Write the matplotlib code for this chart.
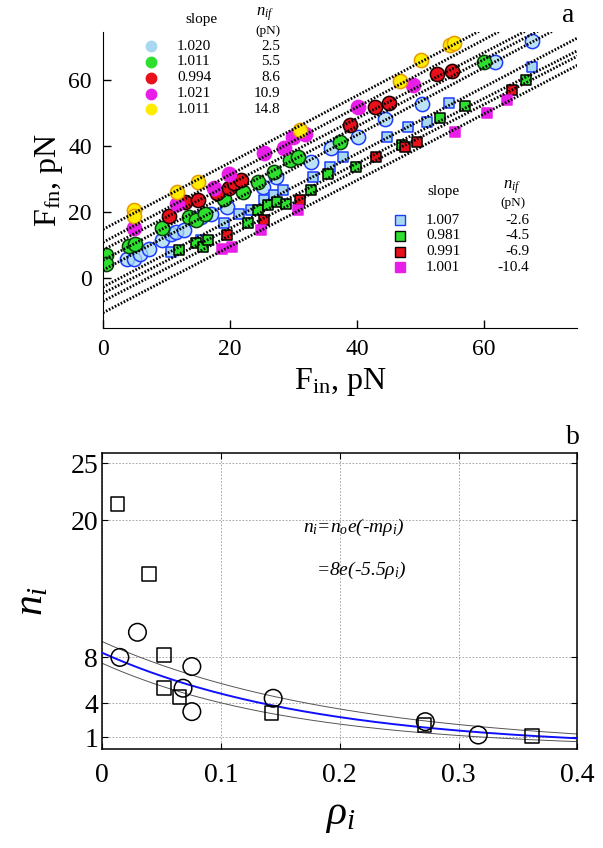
import numpy as np
import matplotlib
matplotlib.use("Agg")
import matplotlib.pyplot as plt

plt.rcParams['font.family'] = ['Liberation Serif', 'DejaVu Serif']
plt.rcParams['mathtext.fontset'] = 'custom'
plt.rcParams['mathtext.rm'] = 'Liberation Serif'
plt.rcParams['mathtext.it'] = 'Liberation Serif:italic'
plt.rcParams['mathtext.bf'] = 'Liberation Serif:bold'

# ---------------- Panel a data ----------------
circ_slopes = [1.020, 1.011, 0.994, 1.021, 1.011]
circ_nif = [2.5, 5.5, 8.6, 10.9, 14.8]
sq_slopes = [1.007, 0.981, 0.991, 1.001]
sq_nif = [-2.6, -4.5, -6.9, -10.4]

# circles: light blue (2.5)
c1_x = [3.8, 4.9, 5.9, 7.2, 9.3, 10.7, 11.5, 12.8, 15.4, 17.0, 19.6, 25.2, 27.3, 32.8, 36.0, 40.2, 44.4, 50.2, 61.8, 67.6]
c1_y = [6.0, 6.0, 7.5, 9.0, 11.5, 13.5, 14.0, 14.5, 18.6, 19.6, 21.6, 27.7, 30.7, 35.3, 39.3, 42.8, 48.1, 52.7, 65.3, 71.9]
# circles: green (5.5)
c2_x = [0.4, 0.4, 4.1, 5.1, 9.3, 13.6, 14.6, 16.0, 19.1, 22.0, 24.4, 27.0, 29.4, 30.7, 37.3, 60.0]
c2_y = [7.0, 4.4, 9.7, 10.5, 15.1, 18.6, 17.6, 19.6, 24.1, 26.2, 29.2, 32.2, 35.8, 36.8, 41.3, 65.4]
# circles: red (8.6)
c3_x = [10.4, 13.0, 14.9, 18.0, 19.9, 20.7, 21.7, 38.9, 42.9, 45.0, 52.6, 55.0]
c3_y = [18.8, 23.1, 23.6, 25.7, 27.2, 28.7, 29.7, 46.4, 51.9, 52.9, 61.8, 62.8]
# circles: magenta (10.9)
c4_x = [4.9, 11.7, 17.5, 19.9, 25.4, 28.6, 29.9, 31.8, 40.2, 48.9]
c4_y = [15.1, 22.6, 27.2, 31.7, 37.8, 39.3, 42.8, 43.8, 51.9, 58.5]
# circles: yellow (14.8)
c5_x = [4.9, 4.9, 11.7, 14.9, 31.0, 46.8, 50.1, 54.7, 55.3]
c5_y = [20.6, 19.0, 26.2, 29.2, 44.8, 59.7, 66.1, 70.6, 71.3]

# squares: light blue (-2.6)
s1_x = [10.7, 15.4, 19.1, 21.5, 23.3, 25.4, 27.0, 28.3, 33.1, 35.7, 37.8, 44.7, 48.1, 51.0, 54.5, 67.6]
s1_y = [8.0, 11.5, 16.8, 19.6, 20.6, 23.6, 25.2, 26.7, 30.7, 33.7, 36.8, 42.8, 45.9, 47.4, 52.9, 64.0]
# squares: green (-4.5)
s2_x = [12.0, 14.6, 15.7, 16.5, 22.8, 24.4, 26.0, 27.5, 28.9, 32.8, 35.5, 39.9, 47.1, 53.1, 57.1, 66.6]
s2_y = [8.5, 10.7, 9.5, 11.5, 16.6, 20.6, 22.1, 23.1, 22.6, 26.7, 31.7, 33.7, 40.3, 48.4, 52.1, 60.0]
# squares: red (-6.9)
s3_x = [19.6, 25.4, 31.0, 43.1, 47.6, 49.5, 64.5]
s3_y = [13.0, 17.6, 23.6, 36.8, 39.8, 41.3, 57.0]
# squares: magenta (-10.4)
s4_x = [18.8, 20.4, 24.9, 30.7, 55.5, 60.5, 63.7]
s4_y = [9.0, 9.5, 14.5, 20.6, 44.3, 49.9, 53.9]

# ---------------- Panel b data ----------------
sq_rho = [0.0128, 0.039, 0.052, 0.052, 0.065, 0.1425, 0.2713, 0.3619]
sq_n = [21.4, 15.3, 8.2, 5.35, 4.56, 3.16, 2.08, 1.12]
ci_rho = [0.0148, 0.0296, 0.0754, 0.068, 0.0754, 0.1439, 0.272, 0.3166]
ci_n = [8.0, 10.2, 7.2, 5.3, 3.25, 4.42, 2.37, 1.2]
fit_n0, fit_m = 8.4, 5.55
up_n0, up_m = 9.38, 4.96
lo_n0, lo_m = 7.48, 6.22

W, H = 603, 848
fig = plt.figure(figsize=(W / 100, H / 100), dpi=100)

def fx(x):
    return x / W

def fy(y):
    return 1 - y / H

# ---------------- Panel a ----------------
axa = fig.add_axes([fx(103), fy(328), (577 - 103) / W, (328 - 32) / H])
axa.set_xlim(0, 74.7)
axa.set_ylim(-15, 74.5)
for s in ['top', 'right']:
    axa.spines[s].set_visible(False)
axa.set_xticks([0, 20, 40, 60])
axa.set_yticks([0, 20, 40, 60])
axa.tick_params(direction='in', length=6, width=1, labelsize=17, pad=8)

lb_face = (0.66, 0.85, 0.95, 0.75)
circ_styles = [
    dict(fc=lb_face, ec='#1a3cff'),
    dict(fc='#2ee02e', ec='#0b3d0b'),
    dict(fc='#e8101a', ec='#200000'),
    dict(fc='#e81ee8', ec='#e81ee8'),
    dict(fc='#ffec00', ec='#e89a00'),
]
sq_styles = [
    dict(fc='#a8d8f0', ec='#1a3cff'),
    dict(fc='#2ee02e', ec='#000000'),
    dict(fc='#e8101a', ec='#000000'),
    dict(fc='#e81ee8', ec='#e81ee8'),
]
circ_data = [(c1_x, c1_y), (c2_x, c2_y), (c3_x, c3_y), (c4_x, c4_y), (c5_x, c5_y)]
sq_data = [(s1_x, s1_y), (s2_x, s2_y), (s3_x, s3_y), (s4_x, s4_y)]

for (xs, ys), st in zip(circ_data, circ_styles):
    axa.scatter(xs, ys, s=105, marker='o', facecolors=st['fc'], edgecolors=st['ec'],
                linewidths=1.1, zorder=2)
for (xs, ys), st in zip(sq_data, sq_styles):
    axa.scatter(xs, ys, s=62, marker='s', facecolors=st['fc'], edgecolors=st['ec'],
                linewidths=1.1, zorder=2)

xl = np.array([0, 80])
for sl, b in list(zip(circ_slopes, circ_nif)) + list(zip(sq_slopes, sq_nif)):
    axa.plot(xl, sl * xl + b, color='black', lw=2.0, ls=(0, (0.6, 0.6)), zorder=3)

axa.set_xlabel(r'F$_{\rm in}$, pN', fontsize=23, labelpad=4)
axa.set_ylabel(r'F$_{\rm fn}$, pN', fontsize=23, labelpad=2)

fig.text(fx(568), fy(15), 'a', fontsize=20, ha='center', va='center')

# legend 1 (circles)
fig.text(fx(201), fy(20), 'slope', fontsize=11, ha='center', va='center')
fig.text(fx(265), fy(14), r'$n_{if}$', fontsize=12, ha='center', va='center')
fig.text(fx(268), fy(31), '(pN)', fontsize=9.5, ha='center', va='center')
rows1 = [46, 61.7, 77.7, 93.7, 109.3]
leg_circ_colors = ['#a8d8f0', '#2ee02e', '#e8101a', '#e81ee8', '#ffec00']
for r, col, sl, b in zip(rows1, leg_circ_colors, circ_slopes, circ_nif):
    fig.lines.append(plt.Line2D([fx(151)], [fy(r)], marker='o', ms=7.5, mfc=col, mec=col,
                                ls='none', transform=fig.transFigure))
    fig.text(fx(177), fy(r), f'{sl:.3f}', fontsize=11, ha='left', va='center')
    fig.text(fx(280), fy(r), f'{b:.1f}', fontsize=11, ha='right', va='center')

# legend 2 (squares)
fig.text(fx(443), fy(192), 'slope', fontsize=11, ha='center', va='center')
fig.text(fx(512), fy(187), r'$n_{if}$', fontsize=12, ha='center', va='center')
fig.text(fx(513), fy(203), '(pN)', fontsize=9.5, ha='center', va='center')
rows2 = [220, 235.7, 251.7, 267.3]
for r, st, sl, b in zip(rows2, sq_styles, sq_slopes, sq_nif):
    fig.lines.append(plt.Line2D([fx(400)], [fy(r)], marker='s', ms=7.5, mfc=st['fc'], mec=st['ec'],
                                mew=1.0, ls='none', transform=fig.transFigure))
    fig.text(fx(426), fy(r), f'{sl:.3f}', fontsize=11, ha='left', va='center')
    fig.text(fx(529), fy(r), f'{b:.1f}', fontsize=11, ha='right', va='center')

# ---------------- Panel b ----------------
axb = fig.add_axes([fx(102.3), fy(749.3), (577.3 - 102.3) / W, (749.3 - 452.7) / H])
axb.set_xlim(0, 0.4)
axb.set_ylim(-0.05, 25.93)
axb.set_xticks([0, 0.1, 0.2, 0.3, 0.4])
axb.set_xticklabels(['0', '0.1', '0.2', '0.3', '0.4'])
axb.set_yticks([1, 4, 8, 20, 25])
axb.tick_params(direction='in', length=4, width=0.8, labelsize=20, top=True, right=True, pad=10)
axb.tick_params(axis='y', pad=3)
axb.grid(True, color='#999999', ls=(0, (2, 2)), lw=0.6)
for s in axb.spines.values():
    s.set_linewidth(1.1)

rr = np.linspace(0, 0.4, 200)
axb.plot(rr, up_n0 * np.exp(-up_m * rr), color='#555555', lw=0.7, zorder=2)
axb.plot(rr, lo_n0 * np.exp(-lo_m * rr), color='#555555', lw=0.7, zorder=2)
axb.plot(rr, fit_n0 * np.exp(-fit_m * rr), color='#1010ff', lw=1.4, zorder=3)

axb.scatter(ci_rho, ci_n, s=160, marker='o', facecolors='none', edgecolors='black',
            linewidths=1.1, zorder=4)
axb.scatter(sq_rho, sq_n, s=100, marker='s', facecolors='none', edgecolors='black',
            linewidths=1.1, zorder=4)

axb.set_xlabel(r'$\rho_i$', fontsize=30, labelpad=6)
axb.set_ylabel(r'$n_i$', fontsize=30, labelpad=14)

axb.text(0.212, 19.4, r'$n_i$=$n_o$e(-m$\rho_i$)', fontsize=14, style='italic',
         ha='center', va='center', transform=axb.transData)
axb.text(0.218, 15.6, r'=8e(-5.5$\rho_i$)', fontsize=14, style='italic',
         ha='center', va='center', transform=axb.transData)

fig.text(fx(573), fy(438), 'b', fontsize=20, ha='center', va='center')

fig.savefig('out.png', dpi=100)
